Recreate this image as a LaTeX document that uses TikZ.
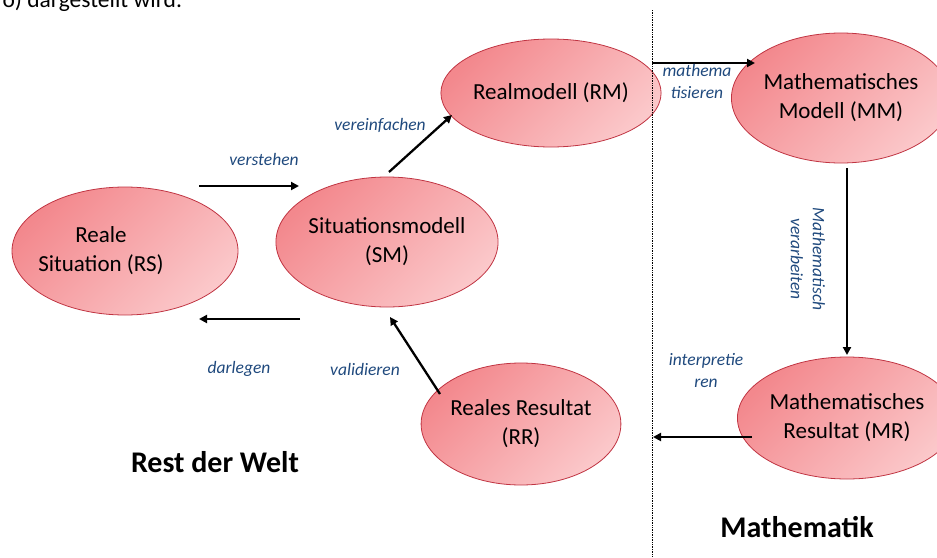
\documentclass[tikz,border=0pt]{standalone}
\usepackage{fontspec}
\setmainfont{Carlito}
\usetikzlibrary{shapes.geometric,arrows.meta}
\definecolor{rand}{RGB}{192,52,66}
\definecolor{rosadunkel}{RGB}{243,136,141}
\definecolor{rosahell}{RGB}{251,200,202}
\definecolor{schrittblau}{RGB}{31,73,125}
\tikzset{
	stufe/.style={ellipse,draw=rand,line width=0.8pt,inner sep=0pt,align=center,
		top color=rosadunkel,bottom color=rosahell,shading angle=45,
		font=\fontsize{23}{29}\selectfont},
	stufetext/.style={align=center,font=\fontsize{23}{29}\selectfont},
	pfeil/.style={line width=2.3pt,-{Triangle[length=8pt,width=8pt]}},
	schritt/.style={text=schrittblau,align=center,font=\itshape\fontsize{17.5}{22}\selectfont},
	bereich/.style={font=\bfseries\fontsize{30}{36}\selectfont}
}
\begin{document}
\begin{tikzpicture}[x=1pt,y=-1pt]
			\useasboundingbox (0,0) rectangle (937,557);
			\node[anchor=base west,font=\fontsize{23.5}{28}\selectfont] (kopf) at (-1,7) {o) dargestellt wird.};
			\node[stufe,minimum width=226,minimum height=128,
				label={[stufetext,xshift=-24]center:Reale\\Situation (RS)}] (RS) at (125,251) {};
			\node[stufe,minimum width=190,minimum height=130] (SM) at (387,242) {Situationsmodell\\(SM)};
			\node[stufe,minimum width=200,minimum height=108] (RM) at (551,93) {Realmodell (RM)};
			\node[stufe,minimum width=196,minimum height=130] (MM) at (841,98) {Mathematisches\\Modell (MM)};
			\node[stufe,minimum width=190,minimum height=122] (MR) at (847,418) {Mathematisches\\Resultat (MR)};
			\node[stufe,minimum width=188,minimum height=122] (RR) at (521,424) {Reales Resultat\\(RR)};
			\coordinate (grenze oben) at (652,10);
			\coordinate (grenze unten) at (652,557);
			\draw[densely dotted,line width=0.7pt] (grenze oben)--(grenze unten);
			\coordinate (v0) at (199,186);
			\coordinate (v1) at (299,186);
			\coordinate (d0) at (300,319);
			\coordinate (d1) at (199,319);
			\coordinate (e0) at (389,172);
			\coordinate (e1) at (452,115);
			\coordinate (w0) at (440,394);
			\coordinate (w1) at (390,317);
			\coordinate (m0) at (652,63);
			\coordinate (m1) at (755,63);
			\coordinate (a0) at (847,168);
			\coordinate (a1) at (847,355);
			\coordinate (i0) at (752,437);
			\coordinate (i1) at (653,437);
			\draw[pfeil] (v0)--(v1);
			\draw[pfeil] (d0)--(d1);
			\draw[pfeil] (e0)--(e1);
			\draw[pfeil] (w0)--(w1);
			\draw[pfeil] (m0)--(m1);
			\draw[pfeil] (a0)--(a1);
			\draw[pfeil] (i0)--(i1);
			\node[schritt,anchor=base] (verstehen) at (264,165) {verstehen};
			\node[schritt,anchor=base] (darlegen) at (239,373) {darlegen};
			\node[schritt,anchor=base] (vereinfachen) at (380,130) {vereinfachen};
			\node[schritt,anchor=base] (validieren) at (365,375) {validieren};
			\node[schritt,anchor=base] (mathematisieren) at (697,98) {mathema\\tisieren};
			\node[schritt,rotate=-90] (verarbeiten) at (808,259) {Mathematisch\\verarbeiten};
			\node[schritt,anchor=base] (interpretieren) at (706,387) {interpretie\\ren};
			\node[bereich,anchor=base] (welt) at (215,472) {Rest der Welt};
			\node[bereich,anchor=base] (mathe) at (797,537) {Mathematik};
		\end{tikzpicture}
\end{document}
